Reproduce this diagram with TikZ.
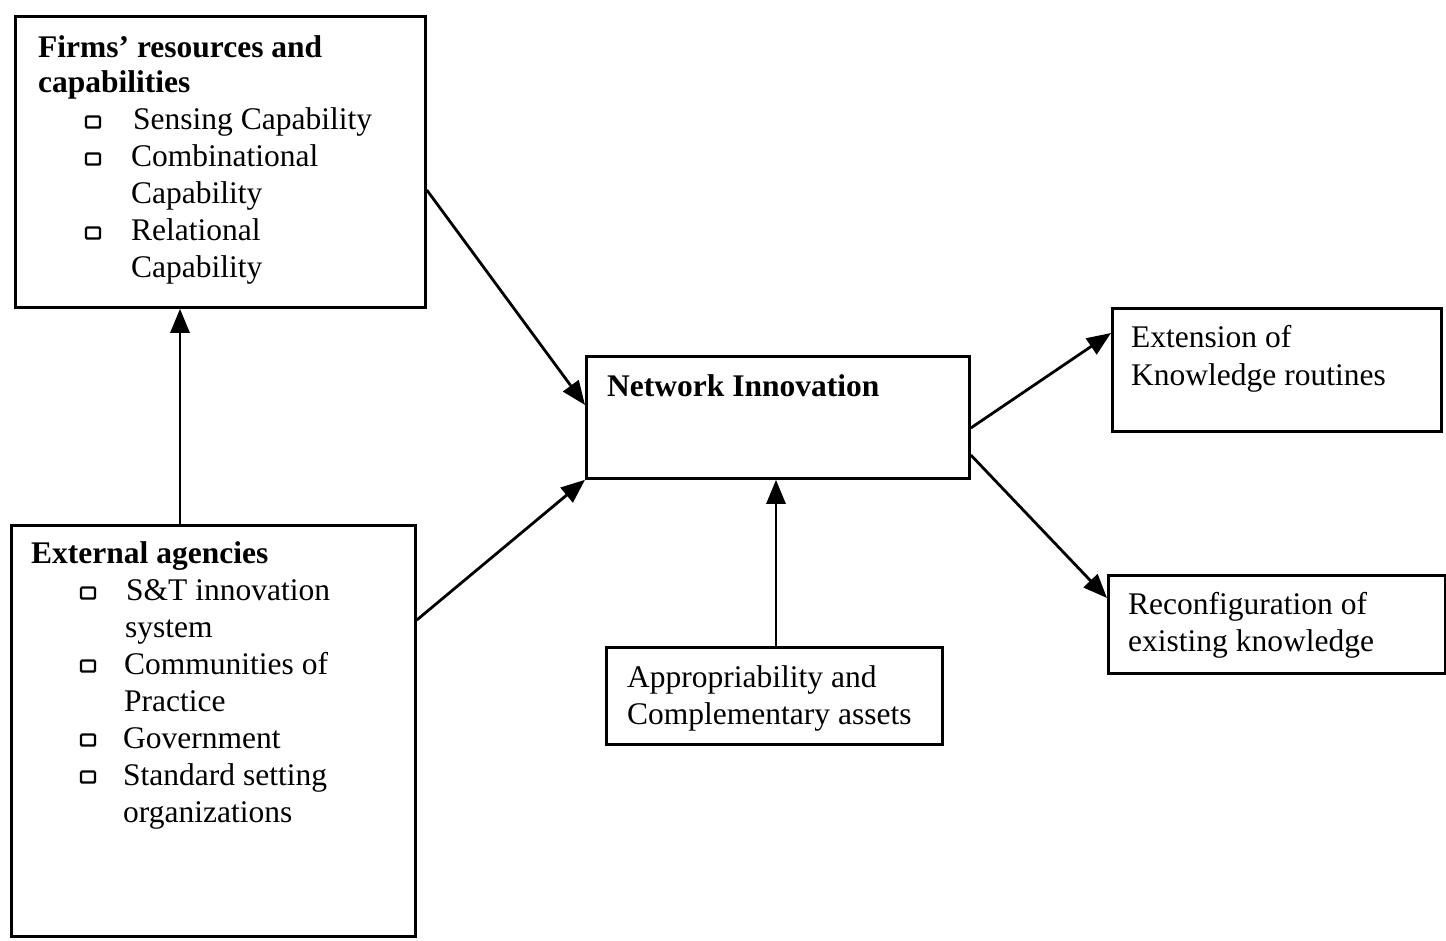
\documentclass[tikz,border=0pt]{standalone}
\usepackage{fontspec}
\setmainfont{Liberation Serif}
\usetikzlibrary{arrows.meta}
\begin{document}
\begin{tikzpicture}[x=1pt,y=-1pt,
  box/.style={draw, line width=2.8pt, anchor=north west, inner sep=0pt},
  txt/.style={anchor=base west, inner sep=0pt, font=\fontsize{31.5}{37}\selectfont},
  btxt/.style={txt, font=\fontsize{31.5}{37}\selectfont\bfseries},
  bul/.style={draw, line width=2.4pt, minimum width=14pt, minimum height=11pt, inner sep=0pt, rounded corners=1.2pt},
  arr/.style={line width=2.8pt, -{Triangle[length=24pt,width=19pt]}}]
\useasboundingbox[fill=white] (0,0) rectangle (1446,940);

% boxes
\node[box, minimum width=410pt, minimum height=291pt] (firms) at (14,15) {};
\node[box, minimum width=404pt, minimum height=411pt] (ext) at (10,524) {};
\node[box, minimum width=383pt, minimum height=122pt] (net) at (585,355) {};
\node[box, minimum width=329pt, minimum height=123pt] (extn) at (1111,307) {};
\node[box, minimum width=337pt, minimum height=98pt] (reconf) at (1107,574) {};
\node[box, minimum width=336pt, minimum height=97pt] (appr) at (605,646) {};

% Firms text
\node[btxt] (f1) at (38,57) {Firms’ resources and};
\node[btxt] (f2) at (38,92) {capabilities};
\node[bul] (fb1) at (93,122) {};
\node[txt] (f3) at (133,129) {Sensing Capability};
\node[bul] (fb2) at (93,159) {};
\node[txt] (f4) at (131,166) {Combinational};
\node[txt] (f5) at (131,203) {Capability};
\node[bul] (fb3) at (93,233) {};
\node[txt] (f6) at (131,240) {Relational};
\node[txt] (f7) at (131,277) {Capability};

% External text
\node[btxt] (e1) at (31,563) {External agencies};
\node[bul] (eb1) at (88,593) {};
\node[txt] (e2) at (126,600) {S\&T innovation};
\node[txt] (e3) at (125,637) {system};
\node[bul] (eb2) at (88,666) {};
\node[txt] (e4) at (124,674) {Communities of};
\node[txt] (e5) at (124,711) {Practice};
\node[bul] (eb3) at (88,740) {};
\node[txt] (e6) at (123,748) {Government};
\node[bul] (eb4) at (88,777) {};
\node[txt] (e7) at (123,785) {Standard setting};
\node[txt] (e8) at (123,822) {organizations};

% other texts
\node[btxt] (n1) at (607,396) {Network Innovation};
\node[txt] (x1) at (1131,347) {Extension of};
\node[txt] (x2) at (1131,385) {Knowledge routines};
\node[txt] (r1) at (1128,614) {Reconfiguration of};
\node[txt] (r2) at (1128,651) {existing knowledge};
\node[txt] (a1) at (627,687) {Appropriability and};
\node[txt] (a2) at (627,724) {Complementary assets};

% connectors
\draw[arr] ([xshift=170pt]ext.north west) -- ([xshift=166pt]firms.south west);
\draw[arr] ([yshift=-175pt]firms.north east) -- ([yshift=-50pt]net.north west);
\draw[arr] ([yshift=-96pt]ext.north east) -- (net.south west);
\draw[arr] ([xshift=171pt]appr.north west) -- ([xshift=191pt]net.south west);
\draw[arr] ([yshift=-73pt]net.north east) -- ([yshift=-26pt]extn.north west);
\draw[arr] ([yshift=-100pt]net.north east) -- ([yshift=-24pt]reconf.north west);
\end{tikzpicture}
\end{document}
